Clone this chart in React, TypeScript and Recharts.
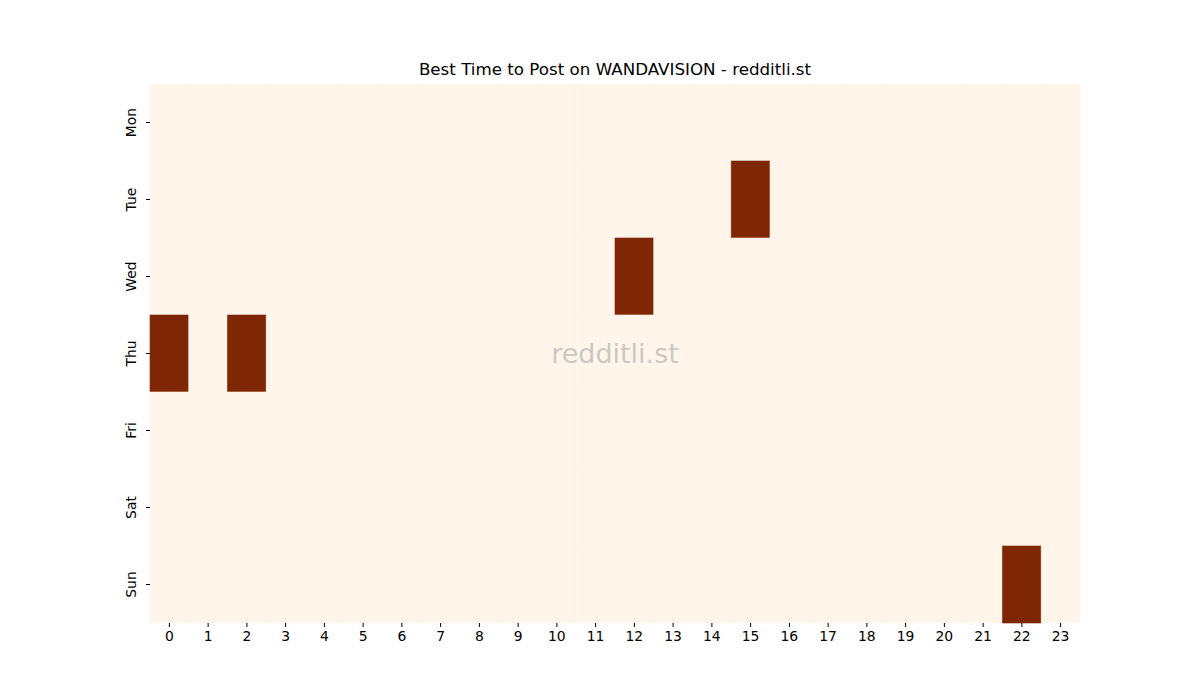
import { ReferenceArea, ScatterChart, XAxis, YAxis, Scatter } from "recharts";

// Hour of day (columns) and weekday (rows) of the heatmap
const hours = Array.from({ length: 24 }, (_, h) => h);
const days = ["Mon", "Tue", "Wed", "Thu", "Fri", "Sat", "Sun"];

// Relative posting score per hour, one list per weekday (0 = low, 1 = best)
const mon = [0, 0, 0, 0, 0, 0, 0, 0, 0, 0, 0, 0, 0, 0, 0, 0, 0, 0, 0, 0, 0, 0, 0, 0];
const tue = [0, 0, 0, 0, 0, 0, 0, 0, 0, 0, 0, 0, 0, 0, 0, 1, 0, 0, 0, 0, 0, 0, 0, 0];
const wed = [0, 0, 0, 0, 0, 0, 0, 0, 0, 0, 0, 0, 1, 0, 0, 0, 0, 0, 0, 0, 0, 0, 0, 0];
const thu = [1, 0, 1, 0, 0, 0, 0, 0, 0, 0, 0, 0, 0, 0, 0, 0, 0, 0, 0, 0, 0, 0, 0, 0];
const fri = [0, 0, 0, 0, 0, 0, 0, 0, 0, 0, 0, 0, 0, 0, 0, 0, 0, 0, 0, 0, 0, 0, 0, 0];
const sat = [0, 0, 0, 0, 0, 0, 0, 0, 0, 0, 0, 0, 0, 0, 0, 0, 0, 0, 0, 0, 0, 0, 0, 0];
const sun = [0, 0, 0, 0, 0, 0, 0, 0, 0, 0, 0, 0, 0, 0, 0, 0, 0, 0, 0, 0, 0, 0, 1, 0];

const scores = [mon, tue, wed, thu, fri, sat, sun];

const FONT = "'DejaVu Sans', sans-serif";
const LOW = [255, 245, 235];
const HIGH = [127, 39, 4];

/** Linear blend between the two ends of the Oranges ramp. */
function cellColor(v: number): string {
  const c = LOW.map((lo, i) => Math.round(lo + (HIGH[i] - lo) * v));
  return `rgb(${c[0]},${c[1]},${c[2]})`;
}

type Cell = { hour: number; day: number; value: number };
const cells: Cell[] = scores.flatMap((row, day) =>
  row.map((value, hour) => ({ hour, day, value }))
);

function DayTick(props: any) {
  const { x, y, payload } = props;
  const tx = x - 8;
  return (
    <text
      x={tx}
      y={y}
      transform={`rotate(-90, ${tx}, ${y})`}
      textAnchor="middle"
      fontSize={13.9}
      fontFamily={FONT}
      fill="#000"
    >
      {days[payload.value]}
    </text>
  );
}

export default function App() {
  return (
    <div style={{ position: "absolute", left: 0, top: 0, width: 1200, height: 700, background: "#fff" }}>
      <div
        style={{
          position: "absolute",
          left: 150,
          width: 930,
          top: 59,
          textAlign: "center",
          fontFamily: FONT,
          fontSize: 16.7,
          color: "#000",
        }}
      >
        Best Time to Post on WANDAVISION - redditli.st
      </div>
      <ScatterChart width={1200} height={700} margin={{ top: 84, right: 120, bottom: 47, left: 0 }}>
        <XAxis
          type="number"
          dataKey="hour"
          domain={[-0.5, 23.5]}
          ticks={hours}
          interval={0}
          height={30}
          axisLine={false}
          tickSize={4}
          tickMargin={4}
          tick={{ fill: "#000", fontSize: 13.9, fontFamily: FONT }}
          tickLine={{ stroke: "#000" }}
          allowDataOverflow
        />
        <YAxis
          type="number"
          dataKey="day"
          domain={[-0.5, 6.5]}
          ticks={days.map((_, i) => i)}
          interval={0}
          reversed
          width={150}
          axisLine={false}
          tickSize={4}
          tickLine={{ stroke: "#000" }}
          tick={<DayTick />}
          allowDataOverflow
        />
        {cells.map((c) => (
          <ReferenceArea
            key={`${c.day}-${c.hour}`}
            x1={c.hour - 0.5}
            x2={c.hour + 0.5}
            y1={c.day - 0.5}
            y2={c.day + 0.5}
            fill={cellColor(c.value)}
            fillOpacity={1}
            stroke={cellColor(c.value)}
            strokeWidth={0.6}
          />
        ))}
        <Scatter data={cells} isAnimationActive={false} shape={() => <g />} />
        <ReferenceArea
          x1={-0.5}
          x2={23.5}
          y1={-0.5}
          y2={6.5}
          fill="none"
          stroke="none"
          label={{
            value: "redditli.st",
            position: "center",
            fill: "rgba(140,140,140,0.45)",
            fontSize: 27,
            fontFamily: FONT,
          }}
        />
      </ScatterChart>
    </div>
  );
}
